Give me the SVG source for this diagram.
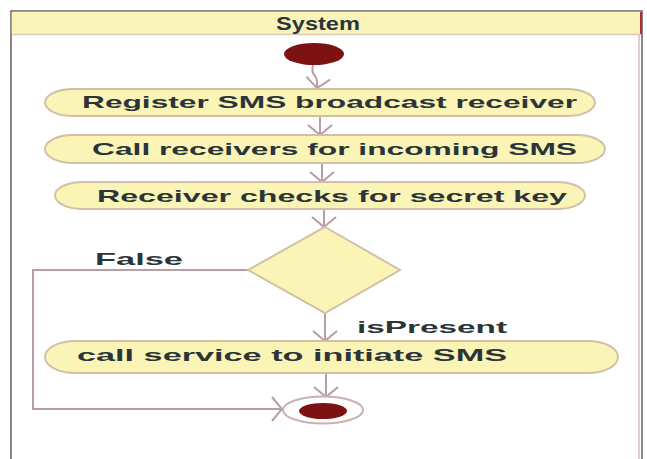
<svg xmlns="http://www.w3.org/2000/svg" width="647" height="459" viewBox="0 0 647 459">
<defs>
<style>
.node{fill:#faf4b6;stroke:#d2c0a6;stroke-width:2}
.lbl{font-family:"Liberation Sans",Arial,sans-serif;font-weight:bold;font-size:17px;fill:#2b3539}
.edge{fill:none;stroke:#b89ca6;stroke-width:2}
</style>
<marker id="arr" viewBox="0 0 12 26" refX="11" refY="13" markerWidth="12" markerHeight="26" markerUnits="userSpaceOnUse" orient="auto">
<path d="M1,1 L11,13 L1,25" fill="none" stroke="#b89ca6" stroke-width="2"/>
</marker>
</defs>
<rect width="647" height="459" fill="#ffffff"/>
<g id="frame">
<rect x="11" y="11" width="631" height="460" fill="#ffffff" stroke="#6a5a5e" stroke-width="1.5"/>
<rect x="11.75" y="11.75" width="629.5" height="22.5" fill="#faf3b9"/>
<line x1="12" y1="34.5" x2="641" y2="34.5" stroke="#dccab8" stroke-width="1.5"/>
<line x1="641" y1="12" x2="641" y2="34" stroke="#b03030" stroke-width="2"/>
<line x1="639" y1="35" x2="639" y2="459" stroke="#d4bcc4" stroke-width="1.5"/>
<text class="lbl" x="276" y="30" textLength="84" lengthAdjust="spacingAndGlyphs" style="font-size:18px">System</text>
</g>
<g id="connectors">
<path class="edge" d="M313,65 Q311,72 315,76 Q318,80 317,88" marker-end="url(#arr)"/>
<line class="edge" x1="320" y1="116" x2="320" y2="135" marker-end="url(#arr)"/>
<line class="edge" x1="322" y1="163" x2="322" y2="182" marker-end="url(#arr)"/>
<line class="edge" x1="324" y1="209" x2="324" y2="227" marker-end="url(#arr)"/>
<line class="edge" x1="325" y1="313" x2="325" y2="341" marker-end="url(#arr)"/>
<line class="edge" x1="326" y1="373" x2="326" y2="397" marker-end="url(#arr)"/>
<path class="edge" d="M248,270 L33,270 L33,409 L282,409" marker-end="url(#arr)"/>
<text class="lbl" x="95" y="265" textLength="88" lengthAdjust="spacingAndGlyphs">False</text>
<text class="lbl" x="357" y="333" textLength="150" lengthAdjust="spacingAndGlyphs">isPresent</text>
</g>
<g id="start">
<ellipse cx="314" cy="54" rx="30" ry="11" fill="#7c1212"/>
</g>
<g id="n1">
<rect class="node" x="45" y="89" width="550" height="27" rx="28" ry="13.5"/>
<text class="lbl" x="82" y="108" textLength="495" lengthAdjust="spacingAndGlyphs">Register SMS broadcast receiver</text>
</g>
<g id="n2">
<rect class="node" x="45" y="135" width="560" height="28" rx="28" ry="14"/>
<text class="lbl" x="92" y="155" textLength="485" lengthAdjust="spacingAndGlyphs">Call receivers for incoming  SMS</text>
</g>
<g id="n3">
<rect class="node" x="55" y="182" width="530" height="27" rx="28" ry="13.5"/>
<text class="lbl" x="97" y="202" textLength="470" lengthAdjust="spacingAndGlyphs">Receiver checks for secret  key</text>
</g>
<g id="decision">
<polygon points="325,227 400,270 325,313 248,270" class="node"/>
</g>
<g id="n4">
<rect class="node" x="45" y="341" width="573" height="32" rx="30" ry="16"/>
<text class="lbl" x="77" y="361" textLength="430" lengthAdjust="spacingAndGlyphs">call  service  to  initiate  SMS</text>
</g>
<g id="end">
<ellipse cx="323" cy="410" rx="40" ry="13.5" fill="#ffffff" stroke="#c8b0b4" stroke-width="2"/>
<ellipse cx="323" cy="411" rx="24" ry="8" fill="#7c1212"/>
</g>
</svg>
